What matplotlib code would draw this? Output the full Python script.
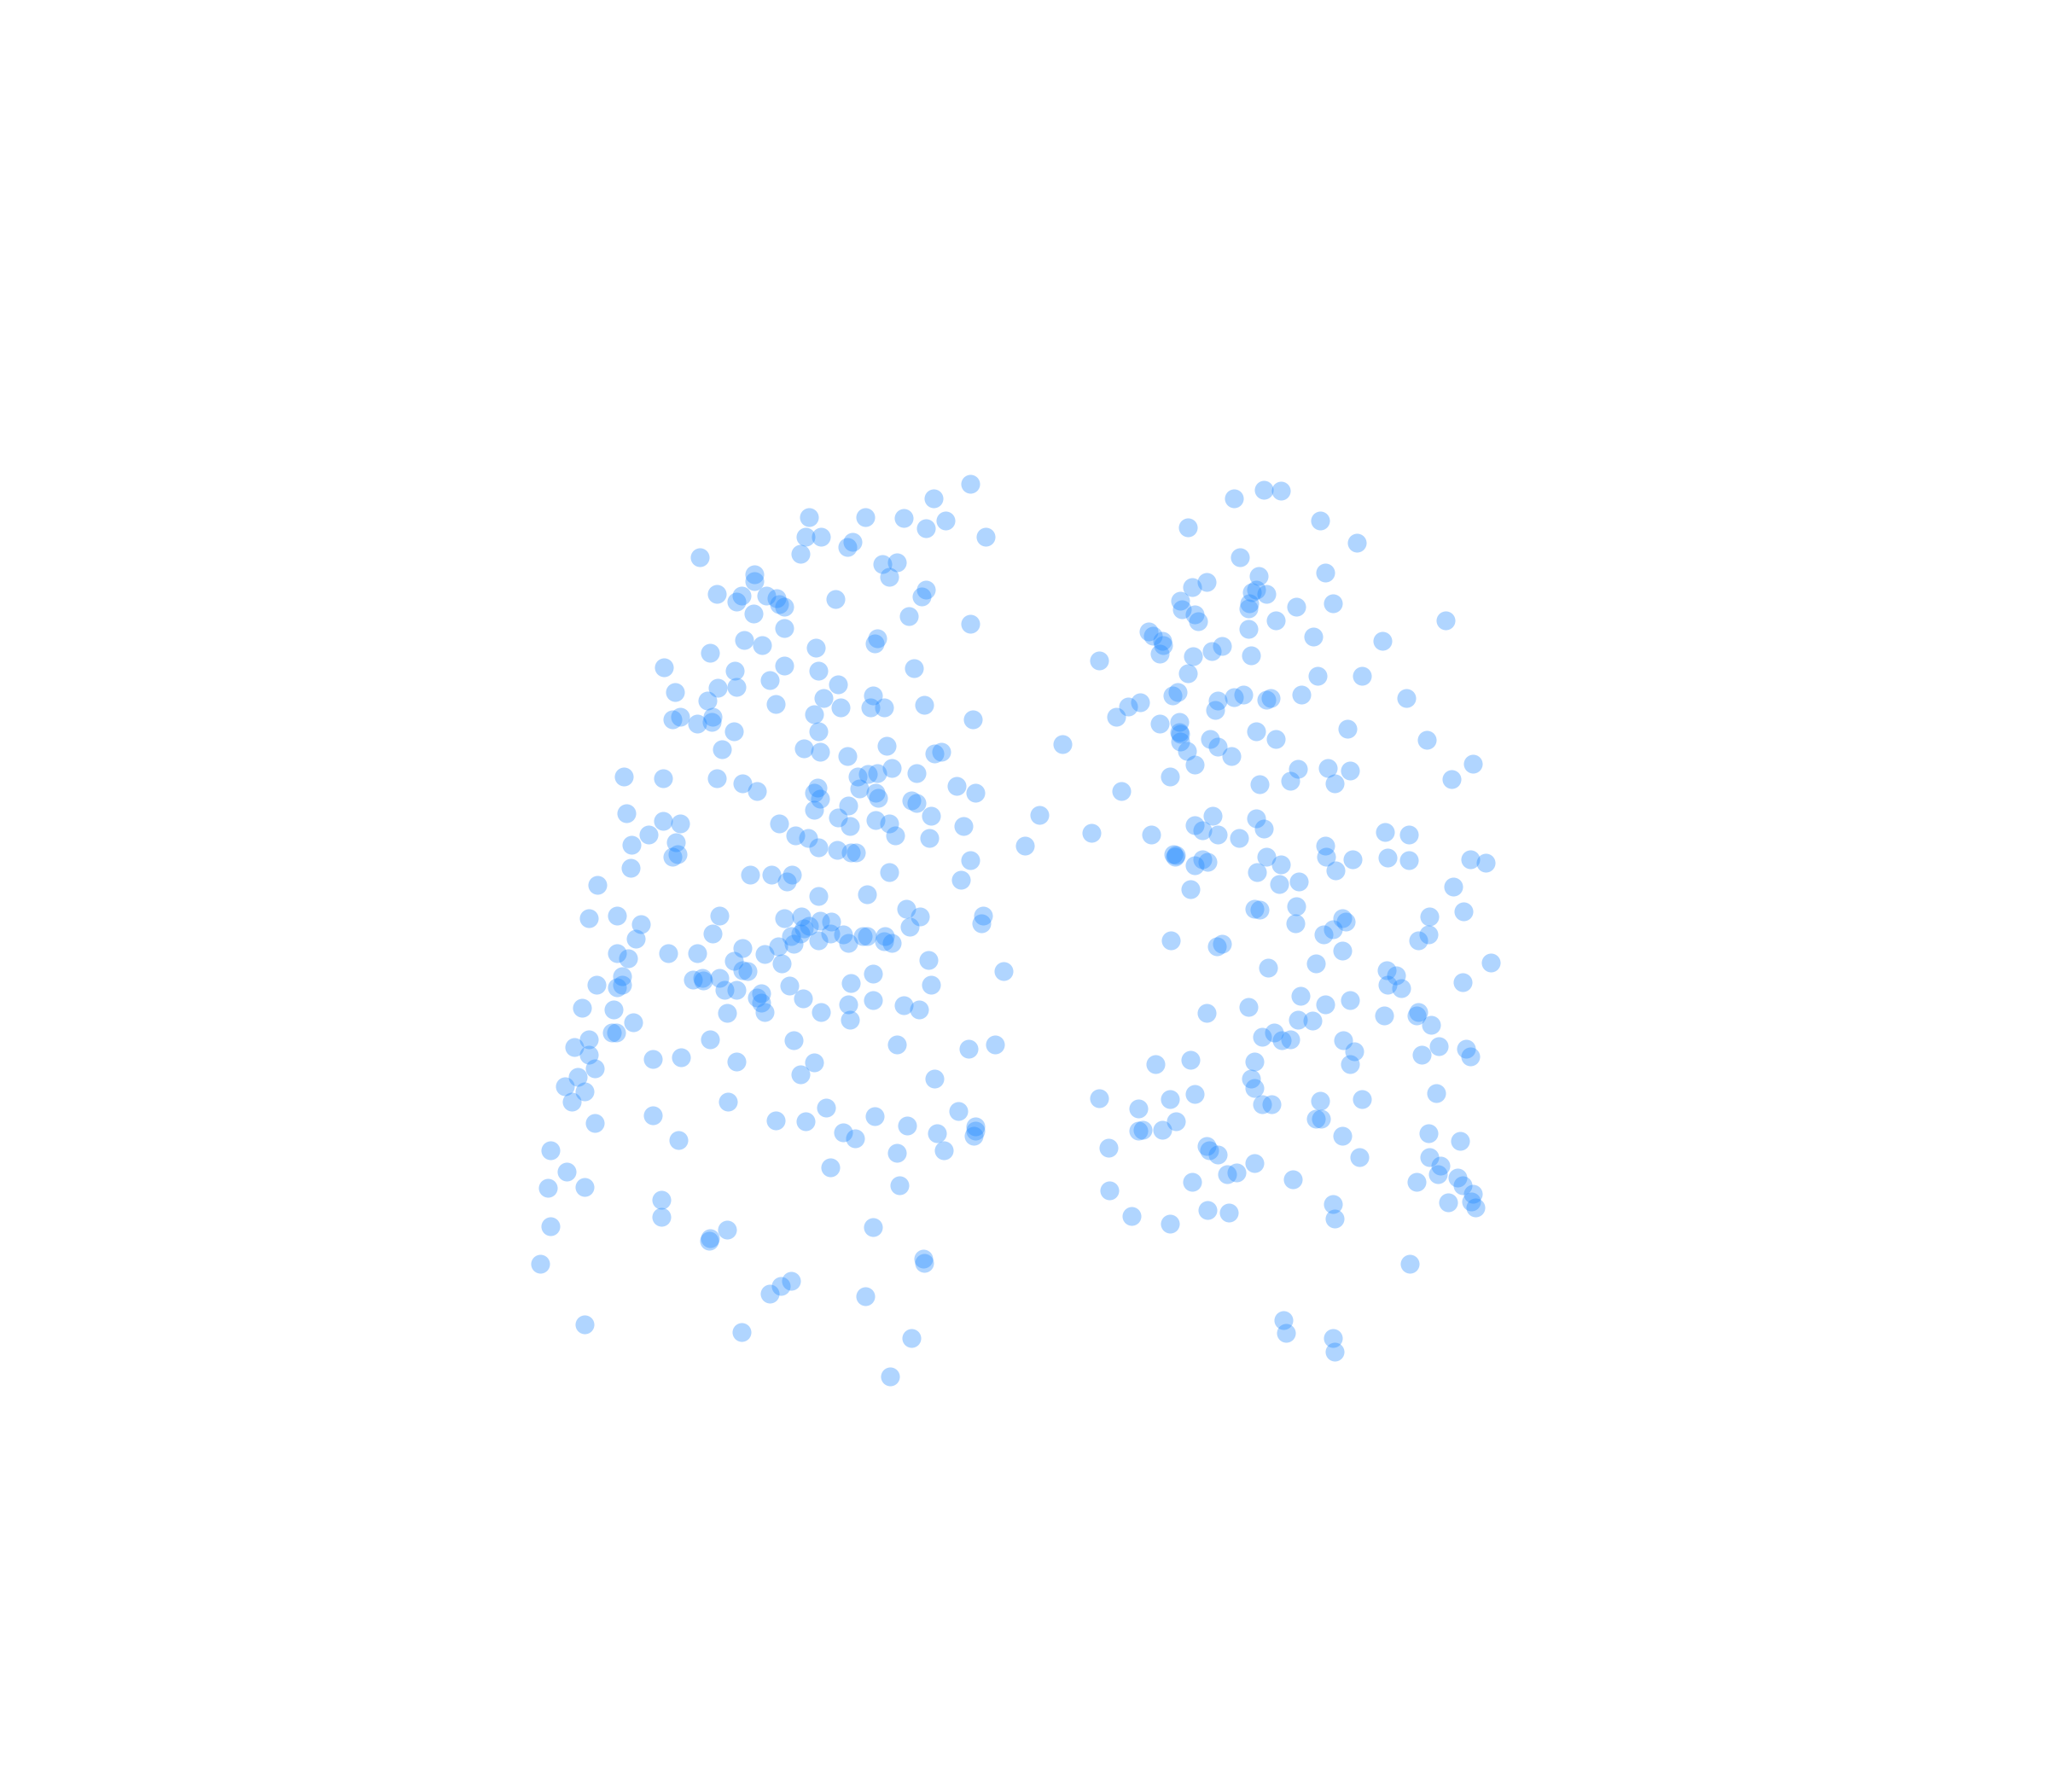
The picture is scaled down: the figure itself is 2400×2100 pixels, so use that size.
import matplotlib
matplotlib.use("Agg")
import matplotlib.pyplot as plt

left_points = [(743,371),(715,382),(692,397),(663,396),(620,396),(709,405),(724,399),(755,411),(617,411),(629,411),(653,415),(649,419),(613,424),(536,427),(676,432),(687,431),(681,442),(578,440),(578,445),(709,452),(706,457),(549,455),(568,456),(564,461),(587,456),(595,458),(597,463),(601,465),(640,459),(577,470),(696,472),(601,481),(743,478),(672,489),(670,493),(570,490),(584,494),(625,496),(544,500),(601,510),(627,514),(700,512),(509,511),(563,514),(590,521),(642,524),(550,527),(564,526),(517,530),(631,535),(669,533),(542,537),(594,539),(644,542),(667,542),(677,542),(708,540),(624,547),(515,551),(521,549),(546,549),(545,553),(534,554),(745,551),(562,560),(627,560),(553,574),(616,573),(628,576),(649,579),(679,571),(716,577),(721,576),(683,588),(478,595),(508,596),(549,596),(569,600),(580,606),(657,595),(665,593),(672,592),(702,592),(626,603),(624,607),(658,604),(628,612),(671,607),(673,611),(698,613),(702,615),(733,602),(747,607),(650,617),(624,620),(480,623),(508,629),(521,631),(642,626),(713,625),(671,628),(681,631),(651,633),(597,631),(738,633),(497,639),(609,640),(619,642),(686,640),(712,642),(484,647),(518,645),(515,656),(519,654),(627,649),(641,651),(652,653),(656,653),(743,659),(483,665),(575,670),(591,670),(607,670),(603,675),(681,668),(736,674),(458,678),(664,685),(627,686),(694,696),(551,701),(601,703),(614,702),(705,702),(753,701),(752,707),(451,703),(473,701),(491,708),(628,705),(637,706),(620,709),(616,711),(697,710),(546,715),(606,717),(613,715),(636,715),(646,716),(661,717),(664,717),(678,717),(487,719),(627,720),(650,722),(677,721),(683,722),(608,723),(596,725),(569,726),(512,730),(534,730),(473,730),(481,734),(586,731),(562,736),(599,738),(711,735),(569,743),(573,744),(769,744),(477,748),(531,750),(538,749),(539,751),(551,749),(669,746),(457,754),(473,756),(477,754),(555,758),(564,758),(605,755),(652,753),(713,754),(583,761),(580,764),(583,768),(615,765),(669,766),(650,769),(692,770),(704,773),(446,772),(470,773),(586,775),(557,776),(629,775),(651,781),(485,783),(469,791),(472,791),(451,796),(544,796),(608,797),(687,800),(742,803),(762,800),(440,802),(451,808),(500,811),(522,810),(564,813),(624,814),(456,818),(443,825),(613,823),(716,826),(433,832),(448,836),(438,844),(558,844),(633,848),(734,851),(500,854),(456,860),(594,858),(617,859),(670,855),(695,862),(747,863),(747,866),(646,867),(655,872),(718,868),(746,870),(520,873),(422,881),(687,883),(723,881),(636,894),(434,897),(420,910),(448,909),(689,908),(507,919),(507,932),(422,939),(557,942),(669,940),(544,948),(543,950),(707,964),(708,967),(414,968),(606,981),(598,985),(590,991),(663,993),(448,1014),(568,1020),(698,1025),(682,1054)]
middle_points = [(814,570),(796,624),(785,648),(836,638)]
right_points = [(968,375),(981,376),(945,382),(1011,399),(910,404),(1039,416),(950,427),(964,441),(1015,439),(924,446),(913,450),(962,452),(959,454),(970,455),(904,460),(957,462),(956,466),(905,467),(915,471),(918,476),(993,465),(1021,462),(977,475),(1107,475),(956,482),(880,484),(883,487),(890,491),(891,494),(888,501),(1006,488),(1059,491),(936,495),(928,499),(914,503),(958,502),(842,506),(910,516),(1009,518),(1043,518),(902,530),(898,533),(952,532),(945,534),(933,537),(931,544),(970,536),(973,535),(997,532),(1077,535),(873,538),(864,541),(855,549),(888,554),(903,553),(903,561),(904,562),(962,560),(1032,558),(927,566),(904,568),(977,566),(1093,567),(909,575),(933,572),(943,579),(915,586),(1128,585),(994,589),(1017,588),(1034,590),(896,595),(988,598),(1022,600),(1112,597),(965,601),(859,606),(929,625),(962,627),(915,632),(921,636),(968,635),(933,639),(949,642),(882,639),(1061,637),(1079,639),(1015,648),(1016,656),(899,654),(901,655),(900,656),(970,656),(921,658),(925,660),(915,663),(1036,658),(1063,657),(1079,659),(1126,658),(1138,661),(981,662),(963,668),(1023,667),(980,677),(995,675),(912,681),(1113,679),(993,694),(961,696),(965,697),(1121,698),(1095,702),(1028,703),(1031,706),(992,707),(1021,712),(1014,716),(1094,716),(1086,720),(897,720),(936,723),(932,725),(1028,728),(1008,738),(971,741),(1142,737),(1062,743),(1069,747),(1063,754),(1073,757),(1120,752),(996,763),(1015,769),(1034,766),(956,771),(924,776),(1086,775),(1085,778),(1060,778),(994,781),(1005,782),(1096,785),(976,791),(967,794),(982,797),(988,796),(1029,797),(1102,801),(1037,805),(1123,803),(1126,809),(1089,808),(912,812),(885,815),(961,813),(1034,815),(958,826),(961,833),(915,838),(1100,837),(842,841),(896,842),(967,846),(974,846),(1011,843),(1043,842),(872,849),(901,859),(1008,857),(1012,857),(872,866),(875,865),(890,865),(1094,868),(1028,870),(1118,874),(849,879),(924,878),(926,881),(933,884),(1041,886),(1095,886),(961,891),(1103,893),(940,899),(947,898),(1101,899),(913,905),(990,903),(1085,905),(1116,902),(1120,908),(850,912),(1128,914),(1021,922),(1127,920),(1130,925),(1109,921),(925,927),(941,929),(867,931),(1022,933),(896,937),(1080,968),(983,1011),(985,1021),(1021,1025),(1022,1035)]

fig = plt.figure(figsize=(8, 7), dpi=300, facecolor="white")
ax = fig.add_axes([0, 0, 1, 1])
for pts in (left_points, middle_points, right_points):
    xs, ys = zip(*pts)
    ax.scatter(xs, ys, s=28, color="#1e88ff", alpha=0.35, linewidths=0)
ax.set_xlim(0.4, 1568.4)
ax.set_ylim(1372.3, 0.3)
ax.axis("off")
fig.savefig("out.png", dpi=300)
